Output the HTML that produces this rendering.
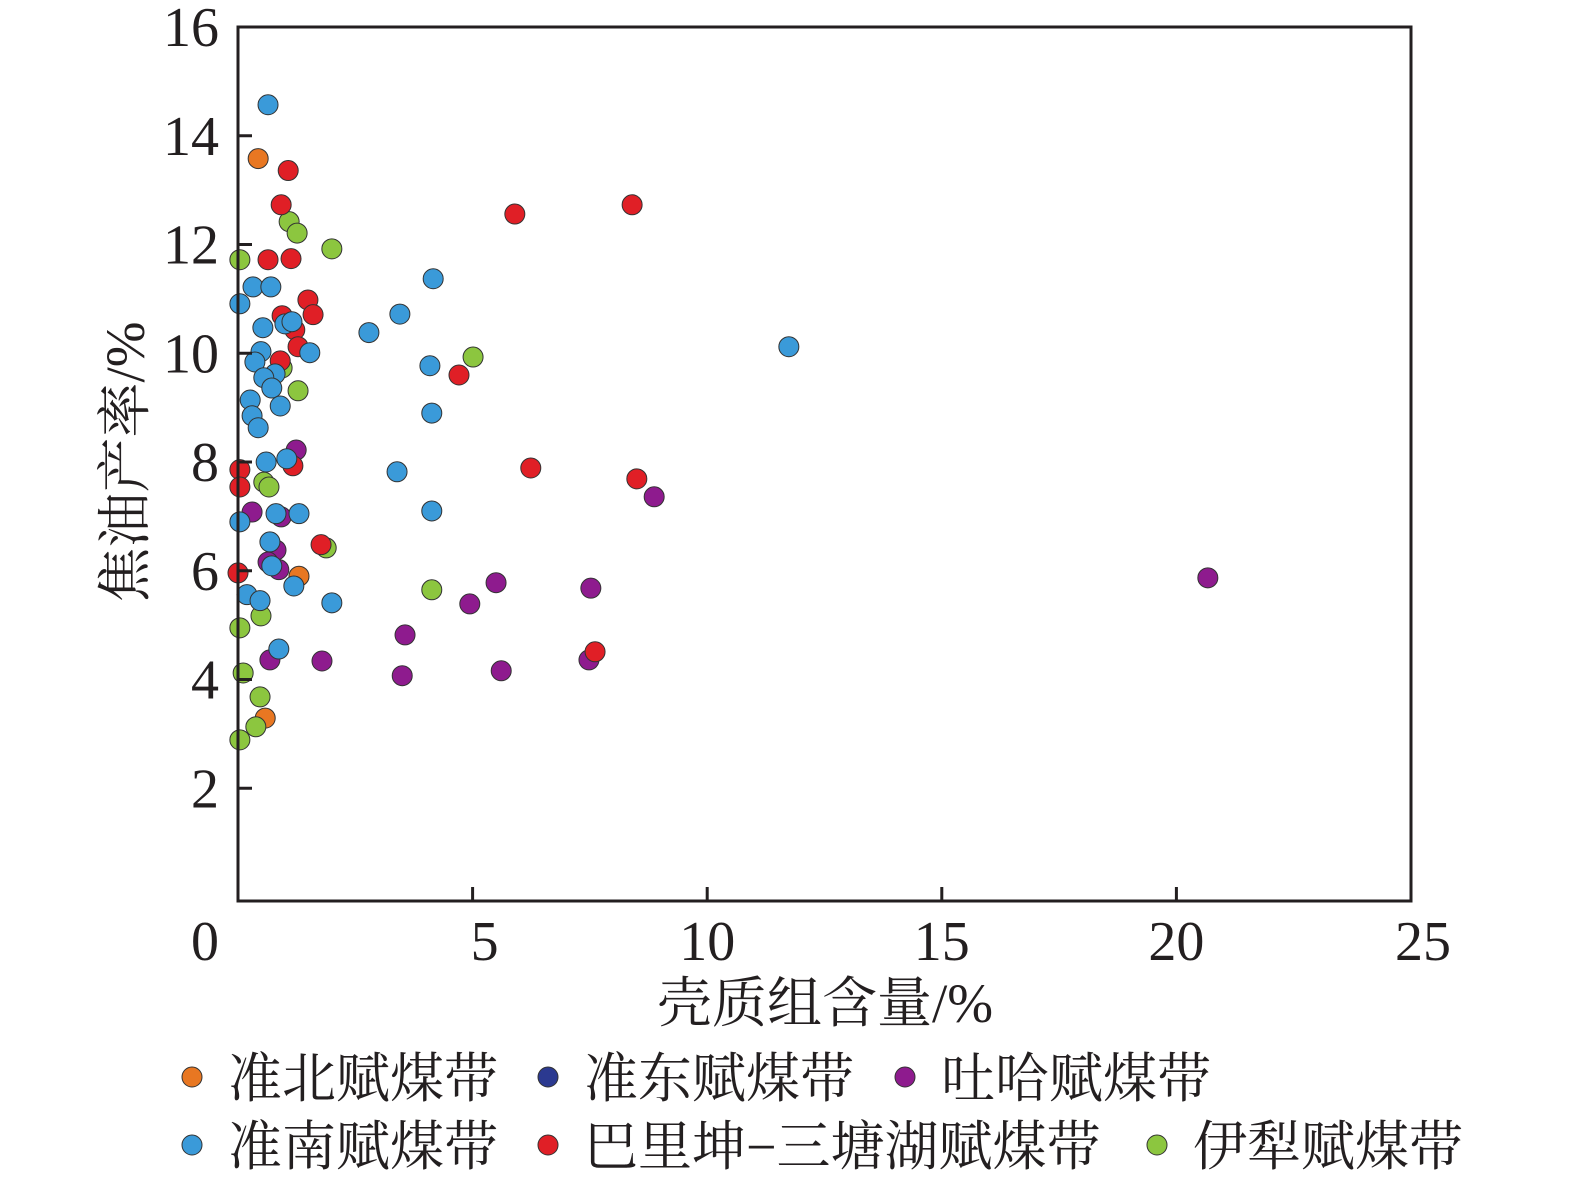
<!DOCTYPE html>
<html><head><meta charset="utf-8"><style>
body{margin:0;background:#fff}
svg{display:block}
text{font-family:"Liberation Serif","Noto Serif CJK SC",serif;fill:#231f20}
</style></head><body>
<svg id="chart" width="1575" height="1185" viewBox="0 0 1575 1185" xmlns="http://www.w3.org/2000/svg">
<g id="marks"></g>
<g id="axes"></g>
</svg>
<script>
const xTicks=[0,5,10,15,20,25];
const yTicks=[2,4,6,8,10,12,14,16];
const seriesNames=["准北赋煤带","准东赋煤带","吐哈赋煤带","准南赋煤带","巴里坤−三塘湖赋煤带","伊犁赋煤带"];
const seriesColors=["#e87722","#2b3990","#8e1b8e","#3a9ad9","#e01f26","#8cc63f"];
const huaibeiX=[0.43,0.58,1.30];
const huaibeiY=[13.58,3.29,5.9];
const zhundongX=[];
const zhundongY=[];
const tuhaX=[1.24,0.92,0.30,0.81,0.64,0.87,0.68,1.79,3.56,3.50,4.94,5.50,5.61,7.52,7.48,8.87,20.67];
const tuhaY=[8.22,6.99,7.08,6.38,6.16,6.02,4.36,4.34,4.82,4.07,5.39,5.78,4.16,5.68,4.36,7.36,5.87];
const bariX=[1.07,0.92,0.64,1.13,1.49,0.94,1.60,1.21,1.28,0.90,0.04,0.04,1.17,0.0,1.77,4.71,5.90,8.40,6.24,8.50,7.61];
const bariY=[13.36,12.73,11.72,11.74,10.98,10.69,10.71,10.43,10.12,9.86,7.86,7.54,7.93,5.96,6.48,9.60,12.56,12.73,7.89,7.69,4.51];
const yiliX=[1.09,1.26,2.00,0.04,0.94,1.28,0.55,0.66,1.88,4.13,5.01,0.04,0.49,0.11,0.47,0.38,0.04];
const yiliY=[12.42,12.21,11.92,11.72,9.73,9.31,7.63,7.54,6.42,5.65,9.93,4.95,5.17,4.12,3.68,3.13,2.89];
const zhunnanX=[0.64,0.32,0.70,0.04,0.53,1.00,1.15,0.49,1.53,0.36,0.79,0.55,0.72,0.26,0.90,0.30,0.43,0.60,1.04,0.81,1.30,0.04,0.68,0.72,1.19,0.19,0.47,2.00,0.87,2.79,3.45,4.16,4.09,4.13,3.39,4.13,11.74];
const zhunnanY=[14.57,11.22,11.22,10.91,10.47,10.54,10.58,10.03,10.01,9.84,9.62,9.55,9.36,9.14,9.03,8.85,8.63,8.00,8.06,7.05,7.05,6.90,6.53,6.09,5.72,5.56,5.45,5.41,4.56,10.38,10.72,11.37,9.77,8.90,7.82,7.10,10.12];

const X0=238,X1=1411,Y0=897,YT=27,YB=901;
const sx=v=>X0+(v/25)*(X1-X0);
const sy=v=>Y0-(v/16)*(Y0-YT);
const NS="http://www.w3.org/2000/svg";
function mk(tag,attrs,parent){const e=document.createElementNS(NS,tag);for(const k in attrs)e.setAttribute(k,attrs[k]);parent.appendChild(e);return e;}
const marks=document.getElementById('marks'),axes=document.getElementById('axes'),svg=document.getElementById('chart');

const drawOrder=[[huaibeiX,huaibeiY,0,'huaibei'],[zhundongX,zhundongY,1,'zhundong'],[tuhaX,tuhaY,2,'tuha'],[yiliX,yiliY,5,'yili'],[bariX,bariY,4,'balikun'],[zhunnanX,zhunnanY,3,'zhunnan']];
drawOrder.forEach(([xs,ys,ci,nm])=>{
  xs.forEach((xv,i)=>{
    const c=mk('circle',{cx:sx(xv),cy:sy(ys[i]),r:10,fill:seriesColors[ci],stroke:'#333',"stroke-width":1},marks);
    
    
  });
});

const frame=mk('rect',{x:X0,y:YT,width:X1-X0,height:YB-YT,fill:'none',stroke:'#231f20',"stroke-width":3},axes);


const xOff={0:-33,5:12,25:12};
xTicks.forEach(t=>{
  const x=sx(t);
  if(t>0&&t<25)mk('line',{x1:x,x2:x,y1:YB,y2:YB-14,stroke:'#231f20',"stroke-width":3},axes);
  const tx=mk('text',{x:x+(xOff[t]||0),y:960,"font-size":56,"text-anchor":"middle"},axes);
  tx.textContent=t;
  
  
});
yTicks.forEach(t=>{
  const y=sy(t);
  if(t<16)mk('line',{x1:X0,x2:X0+14,y1:y,y2:y,stroke:'#231f20',"stroke-width":3},axes);
  const tx=mk('text',{x:219,y:y+19,"font-size":56,"text-anchor":"end"},axes);
  tx.textContent=t;
  
  
});
const xt=mk('text',{x:825,y:1022,"font-size":55,"text-anchor":"middle"},axes);
xt.textContent='壳质组含量/%';


const yt=mk('text',{x:0,y:0,"font-size":55,"text-anchor":"middle",transform:'translate(144,462) rotate(-90)'},axes);
yt.textContent='焦油产率/%';



const legPos=[[192,1077],[548,1077],[905,1077],[192,1145],[548,1145],[1157,1145]];
seriesNames.forEach((n,i)=>{
  const g=mk('g',{},svg);
  
  
  mk('circle',{cx:legPos[i][0],cy:legPos[i][1],r:10,fill:seriesColors[i],stroke:'#333',"stroke-width":1},g);
  const t=mk('text',{x:legPos[i][0]+36,y:legPos[i][1]+20,"font-size":54},g);
  t.textContent=n;
});
</script>
</body></html>
